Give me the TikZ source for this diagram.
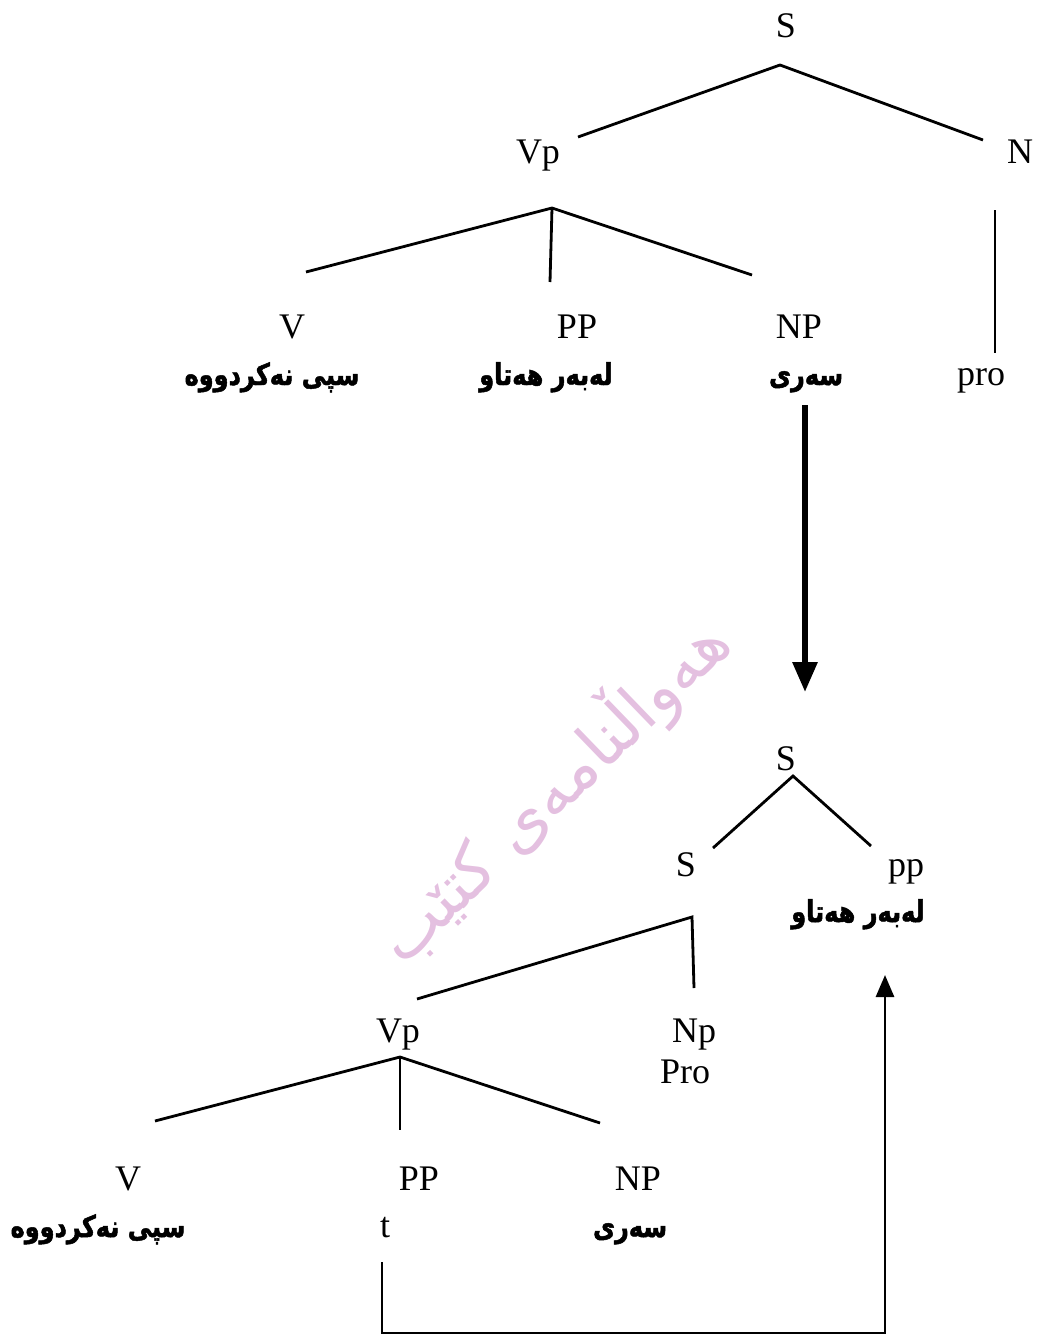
\documentclass[tikz,border=0pt]{standalone}
\usepackage{fontspec}
\setmainfont{Liberation Serif}
\newfontfamily\kufont[Script=Arabic, FakeStretch=0.8, FakeBold=1.6]{DejaVu Sans}
\newfontfamily\wmfont[Script=Arabic]{DejaVu Sans}
\TeXXeTstate=1
\usetikzlibrary{arrows.meta}
\definecolor{wm}{RGB}{228,192,224}
\tikzset{
  lab/.style={font=\fontsize{36}{40}\selectfont, inner sep=0pt, anchor=base},
  ar/.style={font=\kufont\bfseries\fontsize{30}{34}\selectfont, inner sep=0pt, anchor=base},
  br/.style={line width=2.8pt},
  bigarrow/.style={line width=6pt, -{Triangle[width=24pt,length=30pt]}},
  backarrow/.style={line width=2.8pt, -{Triangle[width=18pt,length=22pt]}},
  wmark/.style={font=\wmfont\fontsize{66}{72}\selectfont, text=wm, inner sep=0pt}
}
\begin{document}
\begin{tikzpicture}[x=1pt,y=-1pt]
\useasboundingbox (0,0) rectangle (1039,1336);

% watermark
\node[wmark, rotate=44] (wmk) at (552,790) {\beginR هەواڵنامەی کتێب\endR};

% ---------- top tree ----------
\node[lab] (S1) at (786,37) {S};
\node[lab] (Vp1) at (538,163) {Vp};
\node[lab] (N1) at (1020,163) {N};
\node[lab] (V1) at (292,338) {V};
\node[lab] (PP1) at (577,338) {PP};
\node[lab] (NP1) at (799,338) {NP};
\node[lab] (pro1) at (981,385) {pro};
\node[ar] (a1) at (272,385) {\beginR سپی نەکردووە\endR};
\node[ar] (a2) at (546,385) {\beginR لەبەر هەتاو\endR};
\node[ar] (a3) at (806,385) {\beginR سەری\endR};

\coordinate (S1top) at (780,65);
\coordinate (Vp1l) at (578,137);
\coordinate (N1l) at (983,140);
\coordinate (Vp1top) at (552,208);
\coordinate (V1l) at (306,272);
\coordinate (PP1l) at (550,282);
\coordinate (NP1l) at (752,275);
\coordinate (N1b) at (995,210);
\coordinate (pro1t) at (995,353);

\draw[br] (Vp1l) -- (S1top) -- (N1l);
\draw[br] (V1l) -- (Vp1top) -- (NP1l);
\draw[br] (Vp1top) -- (PP1l);
\draw[br] (N1b) -- (pro1t);

% big arrow
\coordinate (arA) at (805,405);
\coordinate (arB) at (805,692);
\draw[bigarrow] (arA) -- (arB);

% ---------- bottom tree ----------
\node[lab] (S2) at (786,770) {S};
\node[lab] (S3) at (686,876) {S};
\node[lab] (pp2) at (906,876) {pp};
\node[ar] (a4) at (858,922) {\beginR لەبەر هەتاو\endR};
\node[lab] (Vp2) at (398,1042) {Vp};
\node[lab] (Np2) at (694,1042) {Np};
\node[lab] (Pro2) at (685,1083) {Pro};
\node[lab] (V2) at (128,1190) {V};
\node[lab] (PP2) at (419,1190) {PP};
\node[lab] (NP2) at (638,1190) {NP};
\node[ar] (a5) at (98,1237) {\beginR سپی نەکردووە\endR};
\node[lab] (t2) at (385,1237) {t};
\node[ar] (a6) at (630,1237) {\beginR سەری\endR};

\coordinate (S2top) at (793,776);
\coordinate (S3r) at (713,848);
\coordinate (pp2l) at (871,846);
\coordinate (S3top) at (692,917);
\coordinate (Vp2r) at (417,999);
\coordinate (Np2t) at (694,988);
\coordinate (Vp2top) at (400,1057);
\coordinate (V2r) at (155,1121);
\coordinate (PP2t) at (400,1130);
\coordinate (NP2t) at (600,1123);

\draw[br] (S3r) -- (S2top) -- (pp2l);
\draw[br] (Vp2r) -- (S3top) -- (Np2t);
\draw[br] (V2r) -- (Vp2top) -- (NP2t);
\draw[br] (Vp2top) -- (PP2t);

% movement bracket
\coordinate (tb) at (382,1262);
\coordinate (bl) at (382,1333);
\coordinate (brc) at (885,1333);
\coordinate (ppb) at (885,975);
\draw[backarrow] (tb) -- (bl) -- (brc) -- (ppb);
\end{tikzpicture}
\end{document}
